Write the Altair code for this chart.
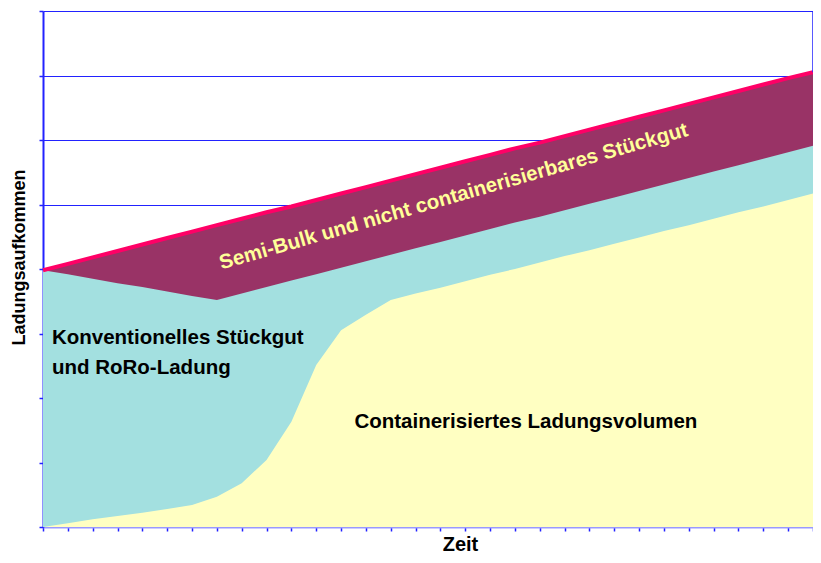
import altair as alt
import pandas as pd

# Time steps (no labels in original)
zeit = list(range(32))

# Top of the whole stack (pink line)
gesamt = [3.98, 4.08, 4.18, 4.28, 4.38, 4.48, 4.58, 4.68, 4.78, 4.88, 4.97, 5.07,
          5.17, 5.27, 5.37, 5.47, 5.57, 5.67, 5.77, 5.87, 5.96, 6.06, 6.16, 6.26,
          6.36, 6.46, 6.56, 6.66, 6.76, 6.86, 6.96, 7.05]

# Top of conventional break-bulk + RoRo band (cumulative)
konventionell = [3.98, 3.92, 3.85, 3.78, 3.72, 3.65, 3.58, 3.52, 3.62, 3.72, 3.82, 3.92,
                 4.02, 4.12, 4.22, 4.32, 4.42, 4.52, 4.62, 4.72, 4.81, 4.91, 5.01, 5.11,
                 5.21, 5.31, 5.41, 5.51, 5.61, 5.71, 5.81, 5.91]

# Containerised volume (bottom band)
container = [0.00, 0.06, 0.12, 0.17, 0.22, 0.28, 0.34, 0.47, 0.68, 1.04, 1.63, 2.51,
             3.05, 3.29, 3.52, 3.62, 3.71, 3.81, 3.91, 4.00, 4.10, 4.20, 4.29, 4.39,
             4.49, 4.59, 4.68, 4.78, 4.88, 4.97, 5.07, 5.17]

y_ticks = list(range(9))

# Annotation labels
left_text = ["Konventionelles Stückgut", "und RoRo-Ladung"]
left_x = [0.36, 0.36]
left_y = [2.93, 2.47]

center_text = ["Containerisiertes Ladungsvolumen"]
center_x = [19.44]
center_y = [1.63]

semi_text = ["Semi-Bulk und nicht containerisierbares Stückgut"]
semi_x = [16.6]
semi_y = [5.03]

df = pd.DataFrame({"zeit": zeit, "gesamt": gesamt, "konv": konventionell, "cont": container})
lab_l = pd.DataFrame({"x": left_x, "y": left_y, "t": left_text})
lab_c = pd.DataFrame({"x": center_x, "y": center_y, "t": center_text})
semi = pd.DataFrame({"x": semi_x, "y": semi_y, "t": semi_text})
edge = pd.DataFrame({"x": [zeit[-1]], "y": [gesamt[-1]], "y2": [y_ticks[-1]]})

BLUE = "#2222FF"
FONT = "Liberation Sans"

xscale = alt.Scale(domain=[zeit[0], zeit[-1]], nice=False, zero=False)
yscale = alt.Scale(domain=[y_ticks[0], y_ticks[-1]], nice=False)

xaxis = alt.Axis(values=zeit, labels=False, grid=False, tickColor=BLUE, tickSize=4,
                 tickWidth=1.5, domainColor="#9999FF", domainWidth=2, title="Zeit",
                 titleFont=FONT, titleFontSize=20, titleFontWeight="bold",
                 titleColor="black", titleBaseline="alphabetic", titleX=417, titleY=23.5)
yaxis = alt.Axis(values=y_ticks, labels=False, grid=True, gridColor=BLUE, gridWidth=1.2,
                 tickColor=BLUE, tickSize=4, tickWidth=1.5, domainColor=BLUE, domainWidth=2,
                 title="Ladungsaufkommen", titleFont=FONT, titleFontSize=18,
                 titleFontWeight="bold", titleColor="black", titleX=-15, titleY=246)

def X(f):
    return alt.X(f, type="quantitative", scale=xscale, axis=xaxis)

def Y(f):
    return alt.Y(f, type="quantitative", scale=yscale, axis=yaxis)

base = alt.Chart(df)
a_semi = base.mark_area(color="#993366", opacity=1).encode(x=X("zeit"), y=Y("gesamt"))
a_konv = base.mark_area(color="#A3E0E0", opacity=1).encode(x=X("zeit"), y=Y("konv"))
a_cont = base.mark_area(color="#FFFFC2", opacity=1).encode(x=X("zeit"), y=Y("cont"))
line = base.mark_line(color="#FF0066", strokeWidth=4).encode(x=X("zeit"), y=Y("gesamt"))

border = alt.Chart(edge).mark_rule(color=BLUE, strokeWidth=1.5).encode(
    x=X("x"), y=Y("y"), y2="y2")

labels_l = alt.Chart(lab_l).mark_text(font=FONT, fontSize=20.5, fontWeight="bold",
                                      color="black", baseline="middle", align="left").encode(
    x=X("x"), y=Y("y"), text="t")
labels_c = alt.Chart(lab_c).mark_text(font=FONT, fontSize=20.5, fontWeight="bold",
                                      color="black", baseline="middle", align="center").encode(
    x=X("x"), y=Y("y"), text="t")

semi_lbl = alt.Chart(semi).mark_text(font=FONT, fontSize=20.5, fontWeight="bold",
                                     color="#FFFF99", baseline="alphabetic", align="center",
                                     angle=344).encode(x=X("x"), y=Y("y"), text="t")

chart = alt.layer(a_semi, a_konv, a_cont, line, border, labels_l, labels_c, semi_lbl).properties(
    width=770, height=516, background="white",
    autosize=alt.AutoSizeParams(type="none"),
    padding={"left": 35, "top": 3, "right": 0, "bottom": 28},
).configure_view(stroke=None)

chart.save("out.html", embed_options={"renderer": "svg", "actions": False})
